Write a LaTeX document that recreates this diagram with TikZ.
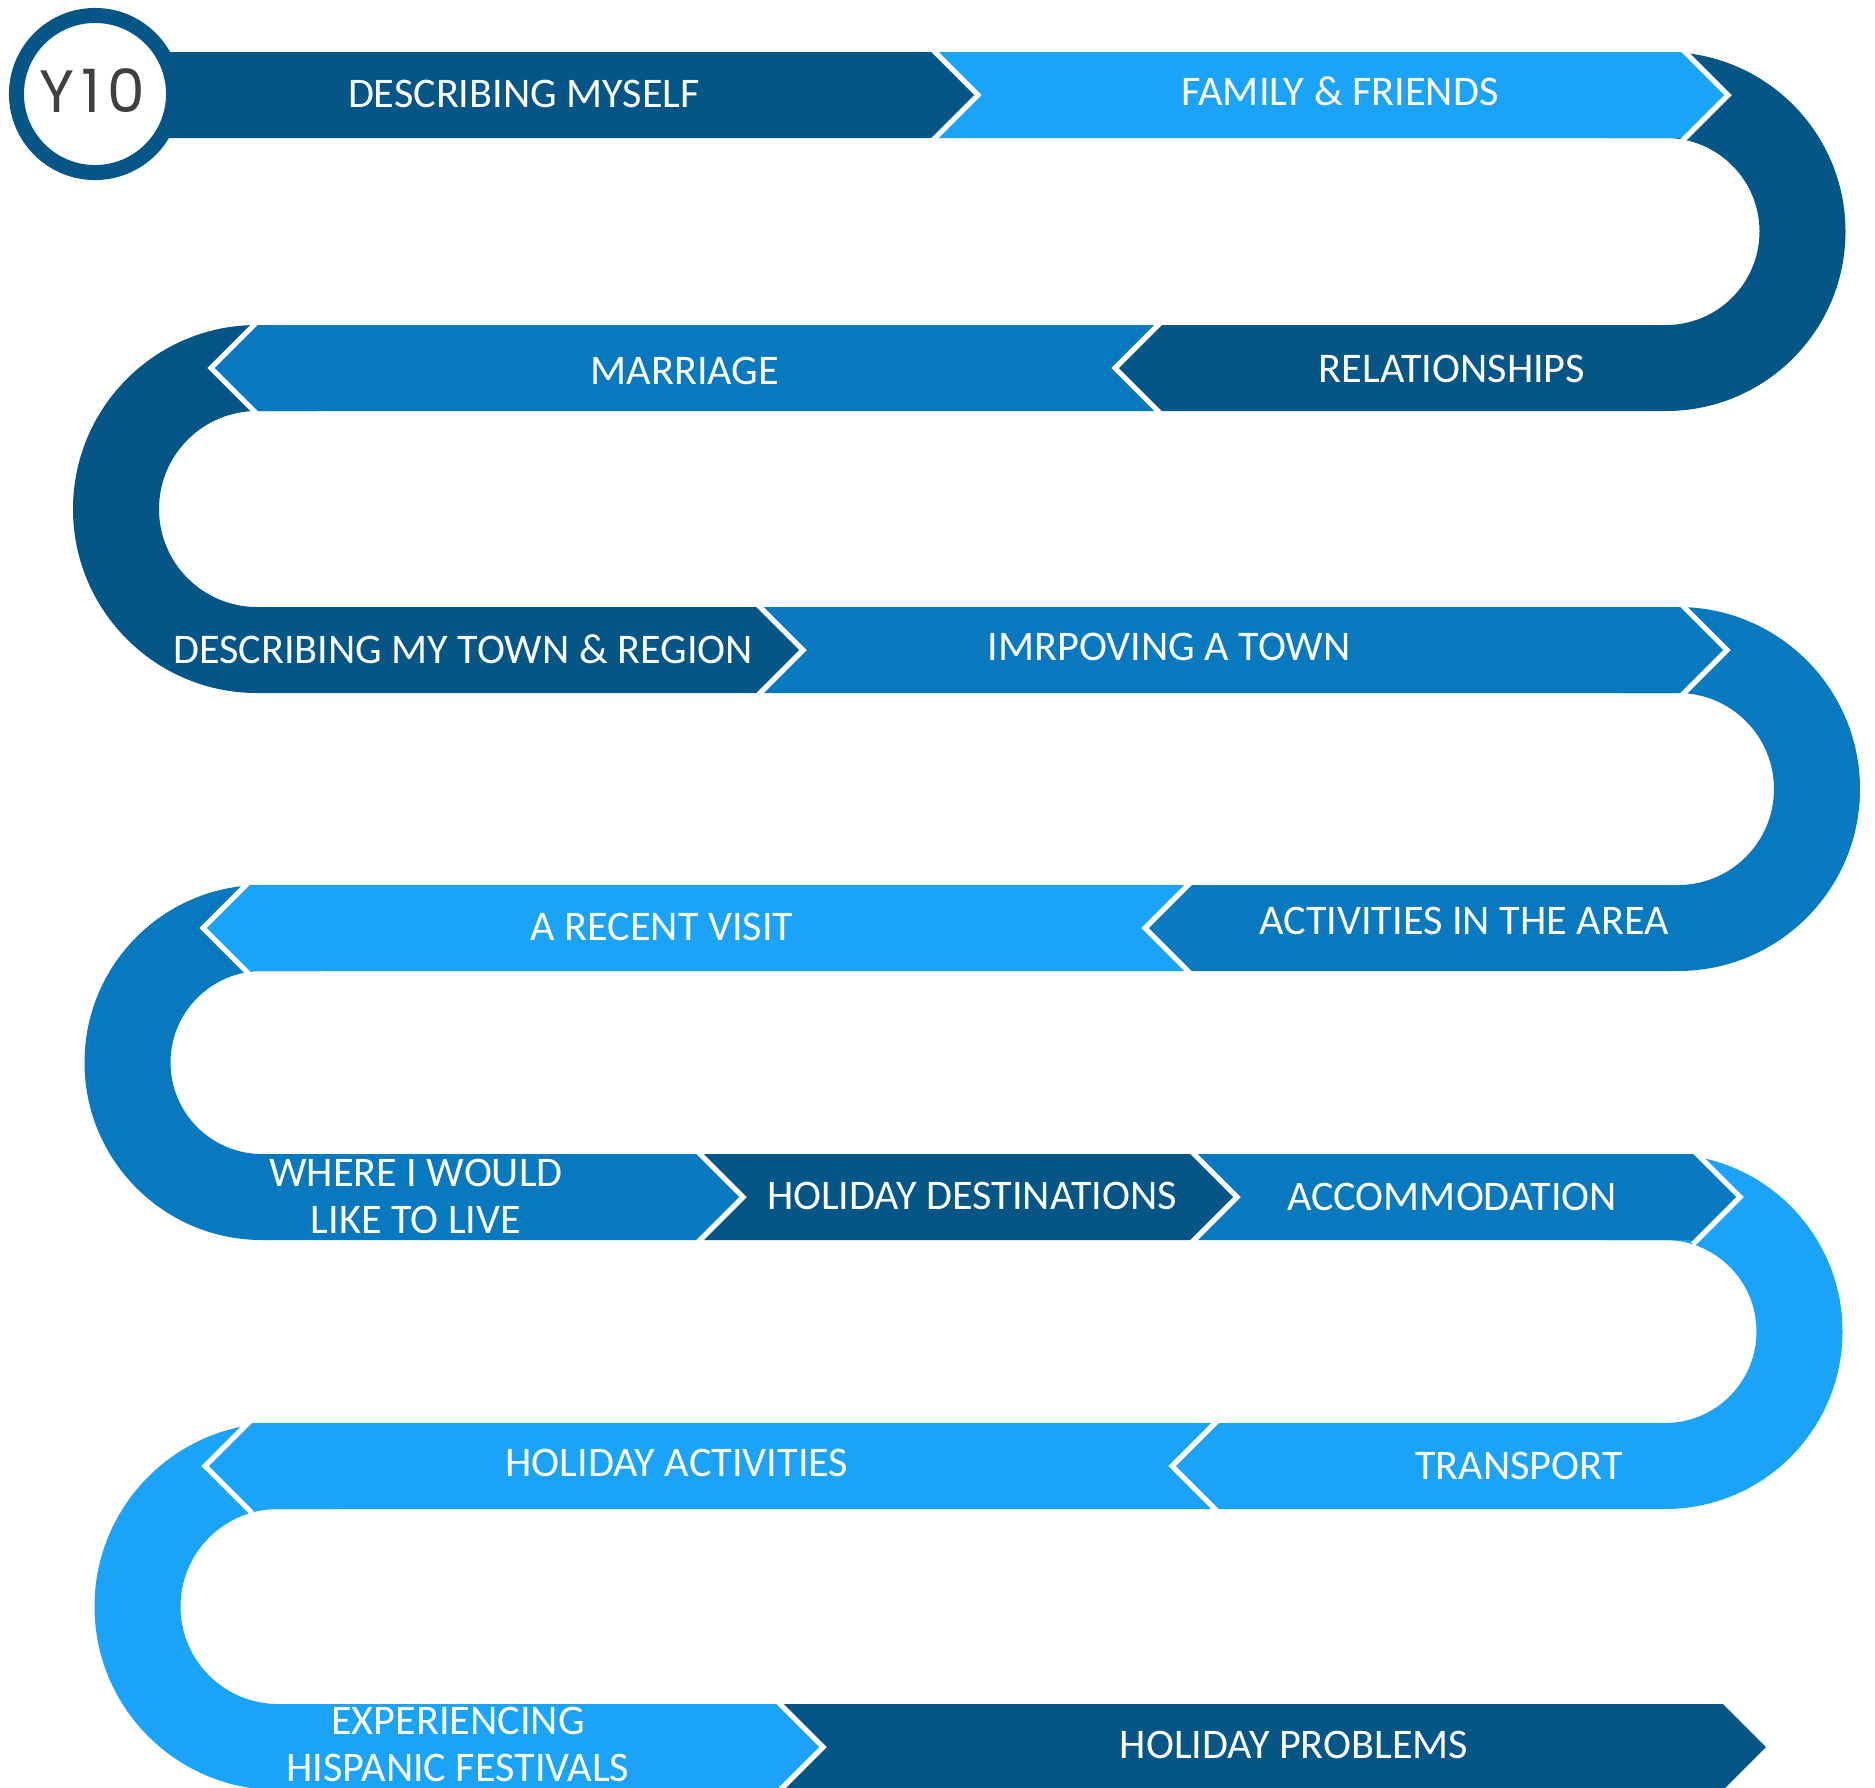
\documentclass[tikz,border=0pt]{standalone}
\usepackage{fontspec}
\setmainfont{Carlito}
\newfontfamily\yearfont[LetterSpace=12]{Poppins}
\usetikzlibrary{calc}

\definecolor{roaddark}{RGB}{5,85,134}
\definecolor{roadmid}{RGB}{8,121,190}
\definecolor{roadlight}{RGB}{27,163,248}
\definecolor{yeargray}{RGB}{64,64,64}

\begin{document}
\begin{tikzpicture}
      [x=0.01cm, y=-0.01cm
      ,col1/.style={fill=roaddark}
      ,col2/.style={fill=roadmid}
      ,col3/.style={fill=roadlight}
      ,gap/.style={draw=white,line width=1.5pt,line join=miter}
      ,lab/.style={text=white,font=\fontsize{12}{13.4}\selectfont,align=center,inner sep=0pt}
      ]
        \useasboundingbox (0,0) rectangle (1875,1787);

        % bends, each with the bar it leads into
        \foreach \cx/\cy/\r/\j/\g/\s [evaluate=\r as \ro using \r+43, evaluate=\r as \ri using \r-43, evaluate=\g as \sa using 90-180*\g]
            in {1666/231.5/136.5/1115/1/col1, 257/509/141/803/-1/col1, 1678/789/139/1145/1/col2,
                262/1062.5/134.5/743/-1/col2, 1665/1331.5/134.5/1172/1/col3, 278/1606.5/140.5/823/-1/col3}
        {
            \fill[\s] ({\cx-60*(\g)},{\cy-\ro}) -- ({\cx},{\cy-\ro})
                arc[start angle=\sa, end angle=90, radius=\ro]
                -- ({\j+43*(\g)},{\cy+\ro}) -- ({\j},{\cy+\r}) -- ({\j+43*(\g)},{\cy+\ri})
                -- ({\cx},{\cy+\ri}) arc[start angle=90, end angle=\sa, radius=\ri]
                -- ({\cx-60*(\g)},{\cy-\ri}) -- cycle;
        }

        % straight bars: notch / tip / row / direction / colour
        \foreach \a/\b/\m/\g/\s in {130/978/95/1/col1, 978/1728/95/1/col3, 1115/211/368/-1/col2,
            803/1727/650/1/col2, 1145/203/928/-1/col3, 743/1237/1197/1/col1, 1237/1740/1197/1/col2,
            1172/205/1466/-1/col3, 823/1766/1747/1/col1}
        {
            \fill[\s] ({\a-43*(\g)},{\m-43}) -- ({\b-43*(\g)},{\m-43}) -- ({\b},{\m})
                -- ({\b-43*(\g)},{\m+43}) -- ({\a-43*(\g)},{\m+43}) -- ({\a},{\m}) -- cycle;
        }

        % white cuts between the pieces
        \foreach \t/\m/\g in {978/95/1, 1728/95/1, 1115/368/-1, 211/368/-1, 803/650/1, 1727/650/1,
            1145/928/-1, 203/928/-1, 743/1197/1, 1237/1197/1, 1740/1197/1, 1172/1466/-1, 205/1466/-1, 823/1747/1}
        {
            \draw[gap] ({\t-47*(\g)},{\m-47}) -- ({\t},{\m}) -- ({\t-47*(\g)},{\m+47});
        }

        \node[circle,draw=roaddark,fill=white,line width=4.27pt,minimum size=1.57cm,inner sep=0pt] (year) at (95,94) {};
        \node[text=yeargray,font=\yearfont\fontsize{17}{17}\selectfont,inner sep=0pt] (yeartext) at (92,91) {Y10};

        \node[lab] (myself)   at (524,94)    {DESCRIBING MYSELF};
        \node[lab] (family)   at (1340,91)   {FAMILY \& FRIENDS};
        \node[lab] (relation) at (1452,369)  {RELATIONSHIPS};
        \node[lab] (marriage) at (685,371)   {MARRIAGE};
        \node[lab] (town)     at (463,649)   {DESCRIBING MY TOWN \& REGION};
        \node[lab] (improve)  at (1169,647)  {IMRPOVING A TOWN};
        \node[lab] (area)     at (1464,921)  {ACTIVITIES IN THE AREA};
        \node[lab] (visit)    at (662,927)   {A RECENT VISIT};
        \node[lab] (live)     at (416,1196)  {WHERE I WOULD\\LIKE TO LIVE};
        \node[lab] (dest)     at (972,1196)  {HOLIDAY DESTINATIONS};
        \node[lab] (accom)    at (1452,1197) {ACCOMMODATION};
        \node[lab] (transp)   at (1519,1466) {TRANSPORT};
        \node[lab] (holact)   at (677,1463)  {HOLIDAY ACTIVITIES};
        \node[lab] (festival) at (458,1744)  {EXPERIENCING\\HISPANIC FESTIVALS};
        \node[lab] (problems) at (1294,1745) {HOLIDAY PROBLEMS};

       \end{tikzpicture}
\end{document}
